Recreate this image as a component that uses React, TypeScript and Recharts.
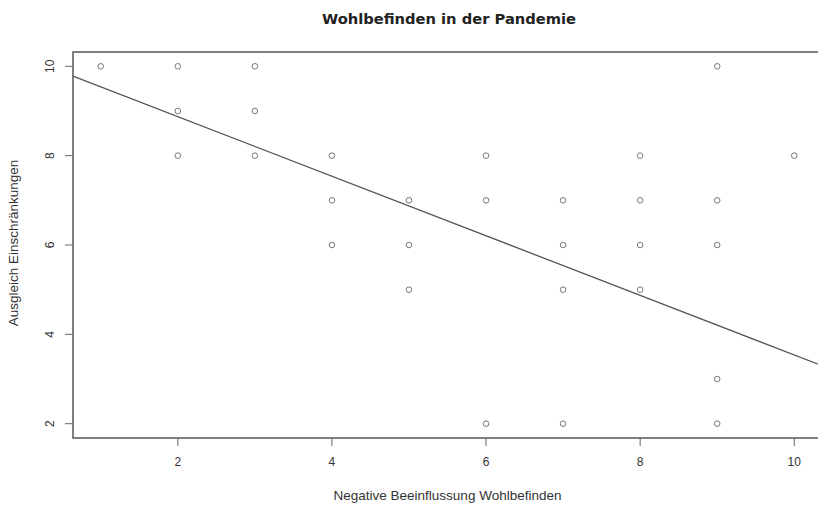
import {
  ReferenceArea,
  ReferenceLine,
  Scatter,
  ScatterChart,
  XAxis,
  YAxis,
} from "recharts";

const X_VALUES = [1, 2, 2, 2, 3, 3, 3, 4, 4, 4, 5, 5, 5, 6, 6, 6, 7, 7, 7, 7, 8, 8, 8, 8, 9, 9, 9, 9, 9, 10];
const Y_VALUES = [10, 10, 9, 8, 10, 9, 8, 8, 7, 6, 7, 6, 5, 8, 7, 2, 7, 6, 5, 2, 8, 7, 6, 5, 10, 7, 6, 3, 2, 8];

const X_TICKS = [2, 4, 6, 8, 10];
const Y_TICKS = [2, 4, 6, 8, 10];
const X_DOMAIN = [0.64, 10.36];
const Y_DOMAIN = [1.68, 10.32];

// fitted line, end points at the plot edges
const FIT_X = [0.64, 10.36];
const FIT_Y = [9.78, 3.3];

const TITLE = "Wohlbefinden in der Pandemie";
const X_LABEL = "Negative Beeinflussung Wohlbefinden";
const Y_LABEL = "Ausgleich Einschränkungen";

const FONT = '"Liberation Sans", Arial, sans-serif';
const INK = "#333";

const points = X_VALUES.map((x, i) => ({ x, y: Y_VALUES[i] }));

function OpenCircle(props: any) {
  const { cx, cy } = props;
  if (cx == null || cy == null) return <g />;
  return <circle cx={cx} cy={cy} r={2.8} fill="none" stroke="#777" strokeWidth={1} />;
}

function YTick(props: any) {
  const { x, y, payload } = props;
  const tx = x - 9;
  return (
    <text
      x={tx}
      y={y}
      transform={`rotate(-90 ${tx} ${y})`}
      textAnchor="middle"
      fontSize={12}
      fontFamily={FONT}
      fill={INK}
    >
      {payload.value}
    </text>
  );
}

function XTick(props: any) {
  const { x, y, payload } = props;
  return (
    <text x={x} y={y} dy="0.71em" textAnchor="middle" fontSize={12} fontFamily={FONT} fill={INK}>
      {payload.value}
    </text>
  );
}

export default function App() {
  return (
    <div style={{ position: "absolute", left: 0, top: 0, width: 818, height: 505, overflow: "hidden", background: "#fff" }}>
      <div
        style={{
          position: "absolute",
          left: 0,
          top: 10,
          width: 898,
          textAlign: "center",
          fontFamily: '"DejaVu Sans", sans-serif',
          fontWeight: "bold",
          fontSize: 14.7,
          color: "#222",
        }}
      >
        {TITLE}
      </div>
      <ScatterChart width={822} height={505} margin={{ top: 52, right: 0, left: 0, bottom: 0 }}>
        <XAxis
          type="number"
          dataKey="x"
          domain={X_DOMAIN}
          ticks={X_TICKS}
          allowDataOverflow
          axisLine={false}
          tickLine={{ stroke: "#666" }}
          tickSize={8}
          tickMargin={11}
          height={67}
          tick={<XTick />}
          label={{
            value: X_LABEL,
            position: "insideBottom",
            offset: 5,
            fontSize: 13.5,
            fontFamily: FONT,
            fill: INK,
          }}
        />
        <YAxis
          type="number"
          dataKey="y"
          domain={Y_DOMAIN}
          ticks={Y_TICKS}
          allowDataOverflow
          axisLine={false}
          tickLine={{ stroke: "#666" }}
          tickSize={8}
          width={73}
          tick={<YTick />}
          label={{
            content: (p: any) => {
              const vb = p.viewBox || { x: 0, y: 52, width: 73, height: 386 };
              const cx = 13;
              const cy = vb.y + vb.height / 2 - 2;
              return (
                <text
                  x={cx}
                  y={cy}
                  transform={`rotate(-90 ${cx} ${cy})`}
                  textAnchor="middle"
                  dominantBaseline="central"
                  fontSize={13.5}
                  fontFamily={FONT}
                  fill={INK}
                >
                  {Y_LABEL}
                </text>
              );
            },
          }}
        />
        <ReferenceArea
          x1={X_DOMAIN[0]}
          x2={X_DOMAIN[1]}
          y1={Y_DOMAIN[0]}
          y2={Y_DOMAIN[1]}
          fill="none"
          stroke="#555"
          strokeWidth={1.5}
          ifOverflow="visible"
        />
        <ReferenceLine
          segment={[
            { x: FIT_X[0], y: FIT_Y[0] },
            { x: FIT_X[1], y: FIT_Y[1] },
          ]}
          stroke="#555"
          strokeWidth={1.3}
          ifOverflow="visible"
        />
        <Scatter data={points} shape={<OpenCircle />} isAnimationActive={false} />
      </ScatterChart>
    </div>
  );
}
